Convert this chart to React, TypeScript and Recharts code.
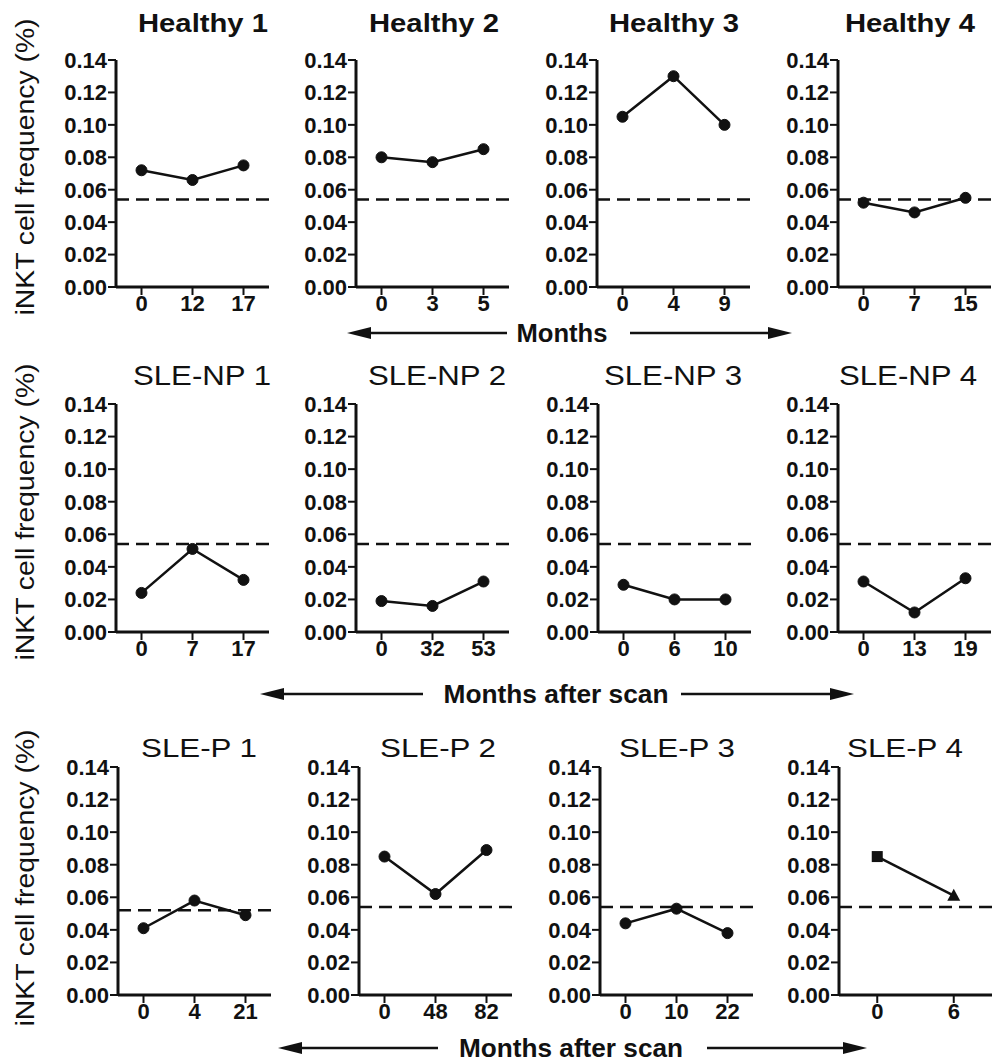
import { LineChart, Line, XAxis, YAxis, ReferenceLine } from 'recharts';

const FONT = '"Liberation Sans", Arial, sans-serif';
const INK = '#111';

// values (iNKT cell frequency, %)
const healthyTitles = ['Healthy 1', 'Healthy 2', 'Healthy 3', 'Healthy 4'];
const healthyMonths = [['0', '12', '17'], ['0', '3', '5'], ['0', '4', '9'], ['0', '7', '15']];
const healthyValues = [
  [0.072, 0.066, 0.075],
  [0.08, 0.077, 0.085],
  [0.105, 0.13, 0.1],
  [0.052, 0.046, 0.055],
];
const healthyCutoff = [0.054, 0.054, 0.054, 0.054];

const slenpTitles = ['SLE-NP 1', 'SLE-NP 2', 'SLE-NP 3', 'SLE-NP 4'];
const slenpMonths = [['0', '7', '17'], ['0', '32', '53'], ['0', '6', '10'], ['0', '13', '19']];
const slenpValues = [
  [0.024, 0.051, 0.032],
  [0.019, 0.016, 0.031],
  [0.029, 0.02, 0.02],
  [0.031, 0.012, 0.033],
];
const slenpCutoff = [0.054, 0.054, 0.054, 0.054];

const slepTitles = ['SLE-P 1', 'SLE-P 2', 'SLE-P 3', 'SLE-P 4'];
const slepMonths = [['0', '4', '21'], ['0', '48', '82'], ['0', '10', '22'], ['0', '6']];
const slepValues = [
  [0.041, 0.058, 0.049],
  [0.085, 0.062, 0.089],
  [0.044, 0.053, 0.038],
  [0.085, 0.061],
];
const slepCutoff = [0.052, 0.054, 0.054, 0.054];

const yTicks = [0, 0.02, 0.04, 0.06, 0.08, 0.1, 0.12, 0.14];
const yLabel = 'iNKT cell frequency (%)';

// layout
const PW = 153;
const YW = 60;
const MT = 16;
const rows = [
  {
    titles: healthyTitles, months: healthyMonths, values: healthyValues, cutoff: healthyCutoff,
    top: 60, bottom: 287, axisX: [116, 356, 597, 838],
    titleX: [203, 434, 674, 910], titleY: 32, titleW: 130, titleSize: 25, titleWeight: 'bold',
    labelCy: 167,
  },
  {
    titles: slenpTitles, months: slenpMonths, values: slenpValues, cutoff: slenpCutoff,
    top: 404, bottom: 632, axisX: [116, 356, 598, 838],
    titleX: [202, 437, 673, 908], titleY: 385, titleW: 138, titleSize: 28, titleWeight: 'normal',
    labelCy: 512,
  },
  {
    titles: slepTitles, months: slepMonths, values: slepValues, cutoff: slepCutoff,
    top: 767, bottom: 995, axisX: [118, 359, 600, 839],
    titleX: [199, 438, 677, 905], titleY: 757, titleW: 116, titleSize: 26, titleWeight: 'normal',
    labelCy: 878,
  },
];

const arrows = [
  { text: 'Months', y: 333, l1: 347, l2: 507, r1: 630, r2: 792, cx: 562, w: 91 },
  { text: 'Months after scan', y: 694, l1: 260, l2: 423, r1: 681, r2: 854, cx: 556, w: 225 },
  { text: 'Months after scan', y: 1048, l1: 278, l2: 438, r1: 707, r2: 867, cx: 571, w: 224 },
];

const slep4Markers = ['square', 'triangle'];

const markerDot = (props: any) => {
  const { cx, cy, index } = props;
  if (slep4Markers[index] === 'square') {
    return <rect key={index} x={cx - 5.5} y={cy - 5.5} width={11} height={11} fill={INK} />;
  }
  return (
    <polygon
      key={index}
      points={`${cx},${cy - 7} ${cx + 6.5},${cy + 5} ${cx - 6.5},${cy + 5}`}
      fill={INK}
    />
  );
};

const tickStyle = { fill: INK, fontSize: 22, fontWeight: 'bold', fontFamily: FONT };

const Panel = ({ row, i }: { row: any; i: number }) => {
  const data = row.months[i].map((m: string, k: number) => ({ m, v: row.values[i][k] }));
  const h = row.bottom - row.top;
  const pad = PW / (2 * data.length);
  const special = row.titles[i] === 'SLE-P 4';
  return (
    <div style={{ position: 'absolute', left: row.axisX[i] - YW, top: row.top - MT }}>
      <LineChart
        width={YW + PW + 1}
        height={h + MT + 40}
        data={data}
        margin={{ top: MT, right: 1, bottom: 0, left: 0 }}
      >
        <XAxis
          dataKey='m'
          height={40}
          padding={{ left: pad, right: pad }}
          interval={0}
          tickSize={8}
          tickMargin={0}
          axisLine={{ stroke: INK, strokeWidth: 3 }}
          tickLine={{ stroke: INK, strokeWidth: 2 }}
          tick={tickStyle}
        />
        <YAxis
          type='number'
          domain={[0, 0.14]}
          ticks={yTicks}
          interval={0}
          width={YW}
          tickSize={8}
          tickMargin={1}
          tickFormatter={(v: number) => v.toFixed(2)}
          axisLine={{ stroke: INK, strokeWidth: 3 }}
          tickLine={{ stroke: INK, strokeWidth: 2 }}
          tick={tickStyle}
        />
        <ReferenceLine y={row.cutoff[i]} stroke={INK} strokeWidth={2.5} strokeDasharray='13 7' />
        <Line
          dataKey='v'
          stroke={INK}
          strokeWidth={2.5}
          isAnimationActive={false}
          dot={special ? markerDot : { r: 5.5, fill: INK, stroke: INK, strokeWidth: 1 }}
          activeDot={false}
        />
      </LineChart>
    </div>
  );
};

const Arrow = ({ a }: { a: any }) => (
  <g>
    <line x1={a.l1 + 18} y1={a.y} x2={a.l2} y2={a.y} stroke={INK} strokeWidth={2.5} />
    <polygon points={`${a.l1},${a.y} ${a.l1 + 24},${a.y - 6} ${a.l1 + 24},${a.y + 6}`} fill={INK} />
    <line x1={a.r1} y1={a.y} x2={a.r2 - 18} y2={a.y} stroke={INK} strokeWidth={2.5} />
    <polygon points={`${a.r2},${a.y} ${a.r2 - 24},${a.y - 6} ${a.r2 - 24},${a.y + 6}`} fill={INK} />
    <text
      x={a.cx}
      y={a.y + 9}
      textAnchor='middle'
      fontSize={25}
      fontWeight='bold'
      textLength={a.w}
      lengthAdjust='spacingAndGlyphs'
    >
      {a.text}
    </text>
  </g>
);

export default function App() {
  return (
    <div
      style={{
        position: 'absolute',
        left: 0,
        top: 0,
        width: 993,
        height: 1061,
        background: '#fff',
        overflow: 'hidden',
        fontFamily: FONT,
      }}
    >
      {rows.map((row, r) => row.titles.map((_: string, i: number) => <Panel key={`${r}-${i}`} row={row} i={i} />))}
      <svg
        width={993}
        height={1061}
        style={{ position: 'absolute', left: 0, top: 0, pointerEvents: 'none' }}
        fontFamily={FONT}
        fill={INK}
      >
        {rows.map((row, r) => (
          <g key={r}>
            {row.titles.map((t: string, i: number) => (
              <text
                key={t}
                x={row.titleX[i]}
                y={row.titleY}
                textAnchor='middle'
                fontSize={row.titleSize}
                fontWeight={row.titleWeight}
                textLength={row.titleW}
                lengthAdjust='spacingAndGlyphs'
              >
                {t}
              </text>
            ))}
            <text
              x={34}
              y={row.labelCy}
              transform={`rotate(-90, 34, ${row.labelCy})`}
              textAnchor='middle'
              fontSize={26}
              textLength={297}
              lengthAdjust='spacingAndGlyphs'
            >
              {yLabel}
            </text>
          </g>
        ))}
        {arrows.map((a, k) => (
          <Arrow key={k} a={a} />
        ))}
      </svg>
    </div>
  );
}
